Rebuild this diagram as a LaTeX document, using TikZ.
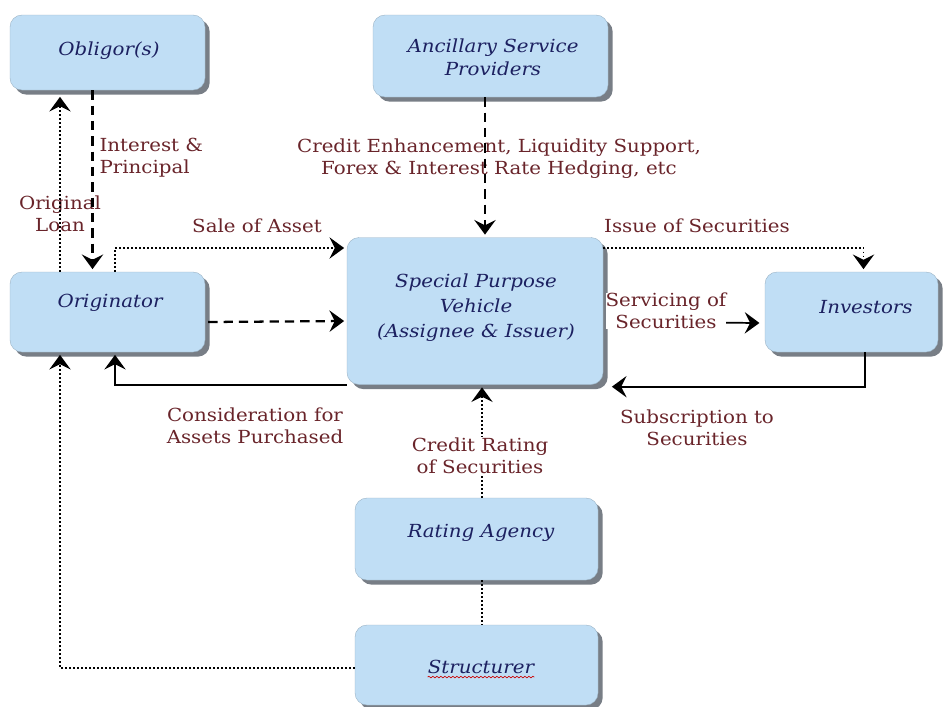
\documentclass[tikz,border=0pt]{standalone}
\usepackage{fontspec}
\setmainfont[FakeStretch=1.1]{DejaVu Serif}
\usetikzlibrary{arrows.meta,calc,shadows,decorations.pathmorphing}
\definecolor{boxblue}{RGB}{192,222,245}
\definecolor{shadowgray}{RGB}{120,126,134}
\definecolor{navy}{RGB}{28,32,96}
\definecolor{maroon}{RGB}{105,36,42}
\tikzset{
  box/.style={rounded corners=9pt, fill=boxblue, draw=boxblue!80!black, line width=0.3pt,
    drop shadow={shadow xshift=3.5pt, shadow yshift=-3.5pt, fill=shadowgray, opacity=1}},
  boxtext/.style={text=navy, font=\fontsize{13.5}{17}\selectfont\itshape, align=center, inner sep=0pt},
  lbl/.style={text=maroon, font=\fontsize{13.5}{16.5}\selectfont, align=center, inner sep=1pt},
  arrowtip/.style={arrows={-{Stealth[length=11pt,width=16pt,inset=4pt,fill=black]}}},
  dashline/.style={line width=1.7pt, dash pattern=on 7pt off 4.5pt},
  dotline/.style={line width=1.3pt, dash pattern=on 1.3pt off 1.7pt},
  solidline/.style={line width=1.3pt},
}
\begin{document}
\begin{tikzpicture}[x=0.75pt,y=-0.75pt]
\useasboundingbox (0,0) rectangle (950,707);
% boxes
\node[box, minimum width=195*0.75pt, minimum height=75*0.75pt] (obl) at (107.5,52.5) {};
\node[boxtext] (oblt) at (109,51) {Obligor(s)};
\node[box, minimum width=235*0.75pt, minimum height=82*0.75pt] (anc) at (490.5,56) {};
\node[boxtext] (anct) at (493,57) {Ancillary Service\\Providers};
\node[box, minimum width=195*0.75pt, minimum height=80*0.75pt] (orig) at (107.5,312) {};
\node[boxtext] (origt) at (110,303) {Originator};
\node[box, minimum width=256*0.75pt, minimum height=147*0.75pt] (spv) at (475,311) {};
\node[boxtext, font=\fontsize{13.5}{18.75}\selectfont\itshape] (spvt) at (476,308) {Special Purpose\\Vehicle\\(Assignee \& Issuer)};
\node[box, minimum width=173*0.75pt, minimum height=80*0.75pt] (inv) at (851.5,312) {};
\node[boxtext] (invt) at (866,307) {Investors};
\node[box, minimum width=243*0.75pt, minimum height=82*0.75pt] (rate) at (476.5,539) {};
\node[boxtext] (ratet) at (481,533) {Rating Agency};
\node[box, minimum width=243*0.75pt, minimum height=80*0.75pt] (struc) at (476.5,665) {};
\node[boxtext] (struct) at (481,667) {Structurer};
\draw[red!80!black, line width=0.5pt, decorate, decoration={snake, amplitude=0.6pt, segment length=3pt}]
  ($(struct.south west)+(0,3)$) -- ($(struct.south east)+(0,3)$);

% coordinates
\coordinate (a1) at ($(obl.south)+(-15,0)$);
\coordinate (a2) at ($(orig.north)+(-47.5,0)$);
\coordinate (a3) at ($(orig.north)+(7.5,0)$);
\coordinate (a4) at ($(anc.south)+(-5.5,0)$);
\coordinate (a5) at ($(inv.north)+(12,0)$);
\coordinate (a6) at ($(rate.north)+(5.5,0)$);
\coordinate (a7) at ($(spv.west)+(0,-63)$);
\coordinate (a8) at ($(spv.east)+(0,-63)$);
\coordinate (a9) at ($(spv.south west)+(0,0)$);
\coordinate (a10) at ($(spv.south east)+(6,2)$);
\coordinate (a11) at ($(orig.south)+(7.5,0)$);
\coordinate (a12) at ($(orig.south)+(-47.5,0)$);
\coordinate (a13) at ($(inv.south)+(13.5,0)$);
\coordinate (a14) at ($(struc.west)+(0,3)$);

% labels
\node[lbl, align=left, anchor=west] (l1) at (98,158) {Interest \&\\Principal};
\node[lbl] (l2) at (60,214) {Original\\Loan};
\node[lbl] (l3) at (257,226) {Sale of Asset};
\node[lbl] (l4) at (499,159) {Credit Enhancement, Liquidity Support,\\Forex \& Interest Rate Hedging, etc};
\node[lbl] (l5) at (697,226) {Issue of Securities};
\node[lbl] (l7) at (255,426) {Consideration for\\Assets Purchased};
\node[lbl] (l8) at (697,428) {Subscription to\\Securities};

% connectors
\draw[dashline, arrowtip, shorten >=2pt] (a1) -- (a1 |- orig.north);
\draw[dotline, arrowtip, shorten >=5pt] (a2) -- (a2 |- obl.south);
\draw[dotline, arrowtip, shorten >=2pt] (a3) |- (a7);
\draw[dashline, arrowtip, shorten >=2pt] ($(orig.east)+(3,10)$) -- ($(spv.west)+(0,10)$);
\draw[solidline, arrowtip, shorten >=2pt] (a9) -| (a11);
\draw[dashline, arrowtip, shorten >=2pt] (a4) -- (a4 |- spv.north);
\draw[dotline, arrowtip, shorten >=2pt] (a8) -| (a5);
\draw[solidline, arrowtip, shorten >=4pt] ($(spv.east)+(3,11)$) -- ($(inv.west)+(0,11)$);
\node[lbl, fill=white, inner sep=0pt] (l6) at (666,311) {Servicing of\\Securities};
\draw[solidline, arrowtip, shorten >=2pt] (a13) |- (a10);
\draw[dotline, arrowtip, shorten >=2pt] (a6) -- (a6 |- spv.south);
\node[lbl, fill=white] (l9) at (480,456) {Credit Rating\\of Securities};
\draw[dotline] ($(rate.south)+(5.5,0)$) -- ($(struc.north)+(5.5,0)$);
\draw[dotline, arrowtip, shorten >=2pt] (a14) -| (a12);
\end{tikzpicture}
\end{document}
